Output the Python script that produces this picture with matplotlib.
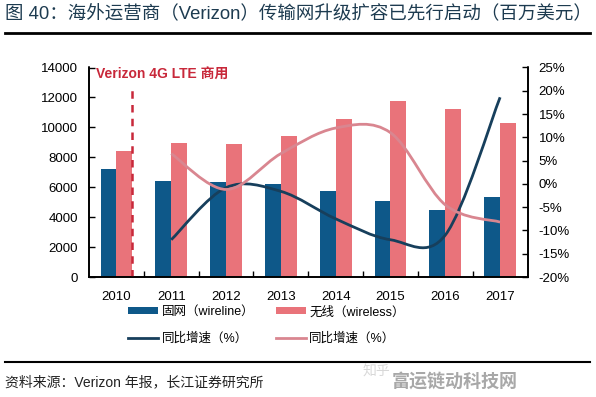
import numpy as np
import matplotlib
matplotlib.use("Agg")
import matplotlib.pyplot as plt
from matplotlib.path import Path
from matplotlib.patches import PathPatch, Patch
from matplotlib.lines import Line2D

plt.rcParams["font.family"] = ["Liberation Sans", "Noto Sans CJK SC"]

years = ["2010", "2011", "2012", "2013", "2014", "2015", "2016", "2017"]
wireline = [7250, 6400, 6340, 6230, 5750, 5050, 4500, 5340]
wireless = [8440, 8970, 8860, 9420, 10530, 11730, 11240, 10300]
# YoY growth (%) for 2011-2017
wireline_yoy = [-12.0, -0.8, -1.6, -7.5, -12.0, -11.0, 18.6]
wireless_yoy = [6.5, -1.2, 6.5, 12.0, 11.0, -4.5, -8.2]

BLUE = "#0e5889"
PINK = "#e9737a"
NAVY = "#173f5c"
ROSE = "#d98690"
RED = "#c8283a"


def smooth_path(xs, ys):
    # Catmull-Rom style bezier through the points (like Excel smoothed lines)
    pts = np.column_stack([xs, ys]).astype(float)
    n = len(pts)
    verts = [pts[0]]
    codes = [Path.MOVETO]
    for i in range(n - 1):
        p0 = pts[i - 1] if i > 0 else pts[i]
        p1 = pts[i]
        p2 = pts[i + 1]
        p3 = pts[i + 2] if i + 2 < n else pts[i + 1]
        c1 = p1 + (p2 - p0) / 6
        c2 = p2 - (p3 - p1) / 6
        verts += [c1, c2, p2]
        codes += [Path.CURVE4] * 3
    return Path(verts, codes)


fig = plt.figure(figsize=(5.96, 3.97), dpi=100)
ax = fig.add_axes([89 / 596, 1 - 277 / 397, 438.5 / 596, 209.5 / 397])
ax2 = ax.twinx()

x = np.arange(len(years))
w = 0.29
ax.bar(x, wireline, width=-w, align="edge", color=BLUE, zorder=2)
ax.bar(x, wireless, width=w, align="edge", color=PINK, zorder=2)

ax.set_xlim(-0.5, len(years) - 0.5)
ax.set_ylim(0, 14000)
ax.set_yticks(range(0, 14001, 2000))
ax.set_xticks(x)
ax.set_xticklabels(years)
ax.set_xticks(np.arange(0.5, len(years) - 1, 1), minor=True)
ax.tick_params(axis="x", which="major", length=0, pad=10, labelsize=9.5)
ax.tick_params(axis="x", which="minor", direction="in", length=4, width=1)
ax.tick_params(axis="y", direction="in", length=4, width=1, labelsize=9.5, pad=8)

# LTE launch marker
ax.vlines(w, 0, 12550, colors=RED, linestyles=(0, (3, 2.5)), linewidth=1.8, zorder=3)
ax.text(-0.38, 13500, "Verizon 4G LTE 商用", color=RED, fontsize=10,
        fontweight="bold", va="center", ha="left")

ax2.set_ylim(-20, 25)
ax2.set_yticks(range(-20, 26, 5))
ax2.set_yticklabels([f"{v}%" for v in range(-20, 26, 5)])
ax2.tick_params(axis="y", direction="in", length=4, width=1, labelsize=9.5, pad=8)

ax2.add_patch(PathPatch(smooth_path(x[1:], wireline_yoy), fill=False,
                        edgecolor=NAVY, linewidth=2, zorder=4))
ax2.add_patch(PathPatch(smooth_path(x[1:], wireless_yoy), fill=False,
                        edgecolor=ROSE, linewidth=2, zorder=4))

for a in (ax, ax2):
    a.spines["top"].set_visible(False)
    for s in ("left", "right", "bottom"):
        a.spines[s].set_linewidth(1.2)

handles = [
    Patch(facecolor=BLUE, label="固网（wireline）"),
    Patch(facecolor=PINK, label="无线（wireless）"),
    Line2D([], [], color=NAVY, linewidth=2, label="同比增速（%）"),
    Line2D([], [], color=ROSE, linewidth=2, label="同比增速（%）"),
]
order = [handles[0], handles[2], handles[1], handles[3]]
fig.legend(handles=order, loc="upper left", bbox_to_anchor=(128 / 596, 1 - 306 / 397),
           ncol=2, frameon=False, fontsize=9, handlelength=2.4, handleheight=0.5,
           handletextpad=0.3, columnspacing=1.7, labelspacing=1.15,
           borderpad=0, borderaxespad=0)

fig.text(5 / 596, 1 - 14 / 397,
         "图 40：海外运营商（Verizon）传输网升级扩容已先行启动（百万美元）",
         fontsize=13.3, color="#1d3b50", va="center", ha="left")
fig.add_artist(Line2D([5 / 596, 590 / 596], [1 - 33 / 397] * 2, color="black", linewidth=2))
fig.add_artist(Line2D([5 / 596, 590 / 596], [1 - 362 / 397] * 2, color="black", linewidth=1.5))
fig.text(5 / 596, 1 - 382 / 397, "资料来源：Verizon 年报，长江证券研究所",
         fontsize=10, color="#222222", va="center", ha="left")
fig.text(363 / 596, 1 - 372 / 397, "知乎", fontsize=10, color="#d8d8d8", va="center")
fig.text(392 / 596, 1 - 382 / 397, "富运链动科技网", fontsize=13, fontweight="bold",
         color="#a8a8a8", va="center")

fig.savefig("out.png", dpi=100)
